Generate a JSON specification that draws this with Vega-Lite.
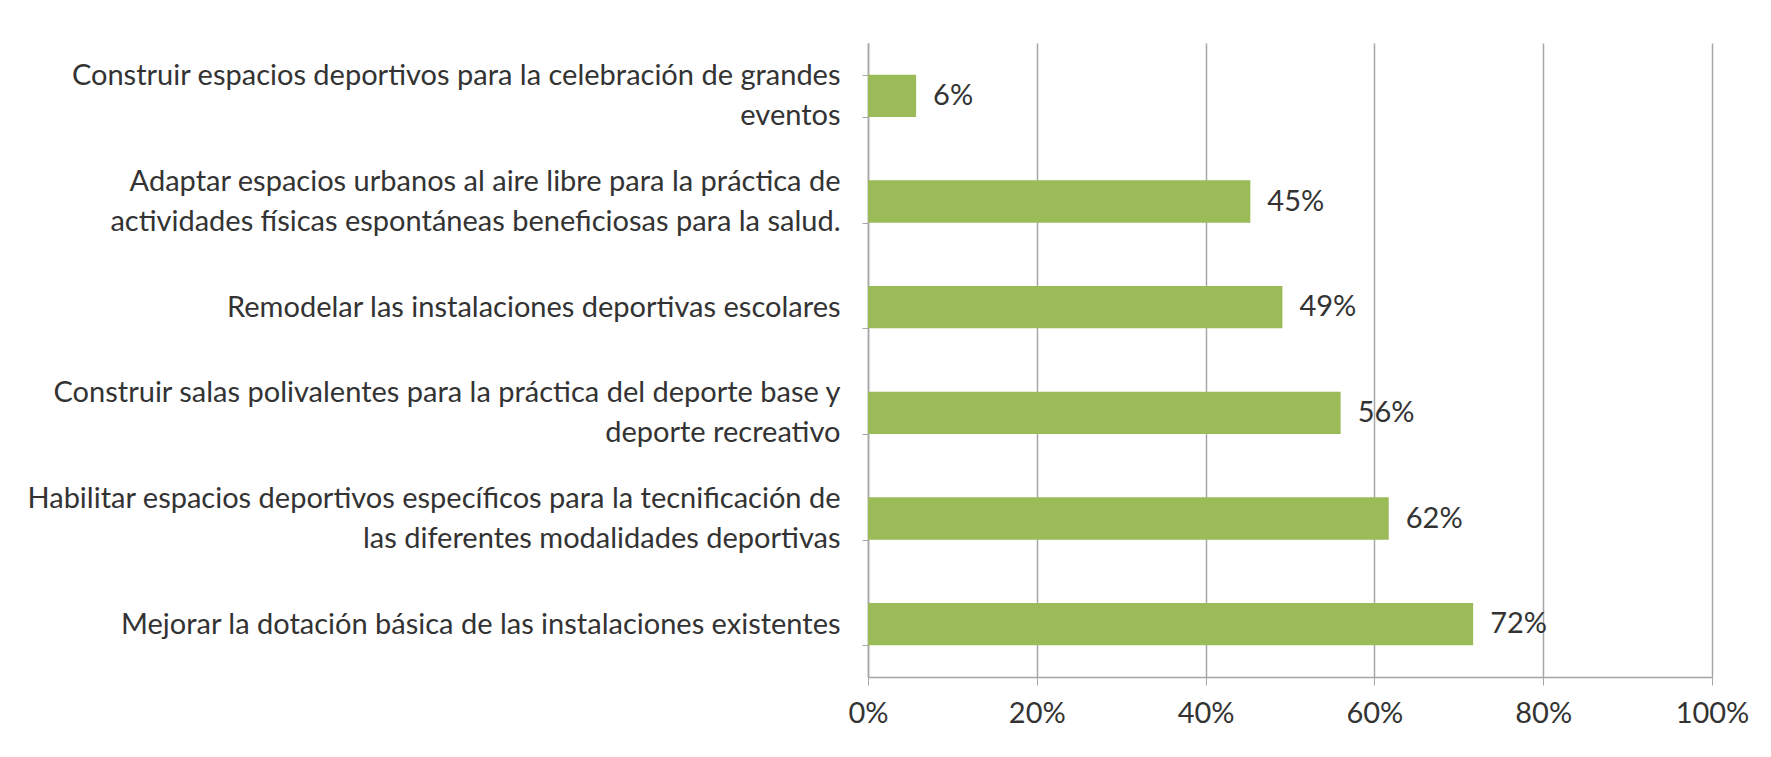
{
  "$schema": "https://vega.github.io/schema/vega-lite/v6.json",
  "autosize": "none",
  "width": 844,
  "height": 634,
  "padding": {"left": 868, "top": 43, "right": 59, "bottom": 80},
  "background": "white",
  "config": {
    "view": {"stroke": null},
    "font": "Lato"
  },
  "data": {
    "values": [
      {"item": "Construir espacios deportivos para la celebración de grandes|eventos", "value": 0.057},
      {"item": "Adaptar espacios urbanos al aire libre para la práctica de|actividades físicas espontáneas beneficiosas para la salud.", "value": 0.453},
      {"item": "Remodelar las instalaciones deportivas escolares", "value": 0.491},
      {"item": "Construir salas polivalentes para la práctica del deporte base y|deporte recreativo", "value": 0.56},
      {"item": "Habilitar  espacios deportivos específicos para la tecnificación de|las diferentes modalidades deportivas", "value": 0.617},
      {"item": "Mejorar la dotación básica de las instalaciones existentes", "value": 0.717}
    ]
  },
  "encoding": {
    "y": {
      "field": "item",
      "type": "nominal",
      "sort": null,
      "title": null,
      "scale": {"paddingInner": 0.6, "paddingOuter": 0.3},
      "axis": {
        "labelExpr": "indexof(datum.label, '|') >= 0 ? [split(datum.label, '|')[0], '\u200b', split(datum.label, '|')[1]] : ['\u200b', datum.label]",
        "labelFont": "Lato",
        "labelFontSize": 29,
        "labelColor": "#333333",
        "labelLineHeight": 20,
        "labelOffset": -20,
        "labelLimit": 900,
        "labelPadding": 22,
        "tickBand": "extent",
        "tickSize": 6,
        "tickColor": "#a6a6a6",
        "domainColor": "#a6a6a6",
        "domainWidth": 1.5
      }
    },
    "x": {
      "field": "value",
      "type": "quantitative",
      "title": null,
      "scale": {"domain": [0, 1]},
      "axis": {
        "format": ".0%",
        "values": [0, 0.2, 0.4, 0.6, 0.8, 1],
        "labelFont": "Lato",
        "labelFontSize": 29,
        "labelColor": "#333333",
        "labelFlush": false,
        "labelPadding": 14,
        "tickSize": 8,
        "tickColor": "#a6a6a6",
        "domainColor": "#a6a6a6",
        "domainWidth": 1.5,
        "grid": true,
        "gridColor": "#a6a6a6",
        "gridWidth": 1.5
      }
    }
  },
  "layer": [
    {"mark": {"type": "bar", "color": "#9bbb59"}},
    {
      "mark": {"type": "text", "align": "left", "dx": 17, "fontSize": 29, "font": "Lato", "color": "#333333"},
      "encoding": {"text": {"field": "value", "type": "quantitative", "format": ".0%"}}
    }
  ]
}
